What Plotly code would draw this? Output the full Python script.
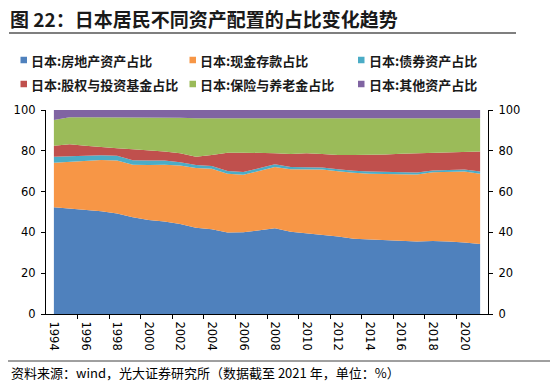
import plotly.graph_objects as go

years = list(range(1994, 2022))
real_estate = [52.3, 51.6, 51.0, 50.4, 49.3, 47.4, 46.1, 45.3, 44.1, 42.3, 41.5, 40.0, 40.1, 41.0,
               42.0, 40.3, 39.6, 39.0, 38.0, 36.9, 36.6, 36.3, 36.2, 35.6, 35.8, 35.6, 35.0, 34.3]
cash_deposit = [21.9, 23.0, 23.8, 25.1, 25.9, 25.8, 26.9, 27.9, 28.7, 29.3, 29.7, 28.8, 28.1, 29.0,
                30.0, 30.7, 31.2, 31.8, 32.0, 32.3, 32.2, 32.3, 32.2, 32.8, 33.7, 34.0, 34.8, 34.5]
bonds = [2.9, 2.7, 2.5, 2.3, 2.4, 2.2, 2.2, 2.0, 1.6, 1.4, 1.4, 1.3, 1.4, 1.4,
         1.4, 1.0, 1.0, 1.0, 1.0, 1.0, 1.0, 1.0, 1.0, 1.0, 0.9, 1.0, 1.0, 1.0]
equity_funds = [5.4, 5.9, 5.2, 4.0, 3.7, 5.4, 5.1, 4.4, 4.4, 4.1, 5.3, 9.0, 9.5, 7.7,
                5.4, 6.4, 7.0, 6.6, 6.9, 7.7, 8.1, 8.6, 9.2, 9.4, 8.4, 8.5, 8.5, 9.8]
insurance_pension = [12.6, 13.2, 13.9, 14.6, 15.1, 15.6, 16.1, 16.7, 17.4, 18.8, 18.0, 16.8, 16.8, 16.8,
                     17.2, 17.7, 17.3, 17.7, 18.2, 18.1, 18.1, 17.8, 17.4, 17.2, 17.2, 16.9, 16.7, 16.4]
other_assets = [4.9, 3.6, 3.6, 3.6, 3.6, 3.6, 3.6, 3.7, 3.8, 4.1, 4.1, 4.1, 4.1, 4.1,
                4.0, 3.9, 3.9, 3.9, 3.9, 4.0, 4.0, 4.0, 4.0, 4.0, 4.0, 4.0, 4.0, 4.0]

series_names = ["日本:房地产资产占比", "日本:现金存款占比", "日本:债券资产占比",
                "日本:股权与投资基金占比", "日本:保险与养老金占比", "日本:其他资产占比"]
series_values = [real_estate, cash_deposit, bonds, equity_funds, insurance_pension, other_assets]
colors = ["#4F81BD", "#F79646", "#4BACC6", "#C0504D", "#9BBB59", "#8064A2"]

year_labels = [str(y) for y in range(1994, 2021, 2)]

W, H = 550, 384
ML, MR, MT, MB = 46, 62, 110, 70
PW, PH = W - ML - MR, H - MT - MB


def px(x):
    return (x - ML) / PW


def py(y):
    return (H - MB - y) / PH


fig = go.Figure()
for name, vals, col in zip(series_names, series_values, colors):
    fig.add_trace(go.Scatter(
        x=years, y=vals, name=name, mode="lines", stackgroup="one",
        line=dict(width=0, color=col), fillcolor=col, showlegend=False,
        hoverinfo="x+y+name"))

axis_font = dict(family="DejaVu Sans", size=11.5, color="#000000")

fig.update_layout(
    width=W, height=H, autosize=False,
    margin=dict(l=ML, r=MR, t=MT, b=MB, pad=0),
    paper_bgcolor="white", plot_bgcolor="white",
    showlegend=False,
    xaxis=dict(
        range=[1993.5, 2021.5], tickmode="array",
        tickvals=list(range(1994, 2021, 2)), ticktext=year_labels,
        tickangle=90, ticks="", tickfont=axis_font, ticklabelstandoff=4,
        showline=True, linecolor="#000000", linewidth=1.3,
        showgrid=False, zeroline=False,
        minor=dict(tickmode="array", tickvals=[1995.5 + 2 * k for k in range(13)],
                   ticks="outside", ticklen=4, tickcolor="#000000", tickwidth=1.3),
    ),
    yaxis=dict(
        range=[0, 100], tickvals=[0, 20, 40, 60, 80, 100], ticks="outside",
        ticklen=4, tickcolor="#000000", tickwidth=1.3, tickfont=axis_font,
        ticklabelstandoff=3,
        showline=True, linecolor="#000000", linewidth=1.3,
        showgrid=False, zeroline=False,
    ),
    yaxis2=dict(
        range=[0, 100], tickvals=[0, 20, 40, 60, 80, 100], ticks="outside",
        ticklen=4, tickcolor="#000000", tickwidth=1.3, tickfont=axis_font,
        ticklabelstandoff=3,
        showline=True, linecolor="#000000", linewidth=1.3,
        showgrid=False, zeroline=False, overlaying="y", side="right",
        anchor="x",
    ),
)
# invisible trace to activate right axis
fig.add_trace(go.Scatter(x=[years[0]], y=[0], yaxis="y2", mode="markers",
                         marker=dict(opacity=0), showlegend=False, hoverinfo="skip"))

cjk = "Noto Sans CJK SC"
annotations = [
    dict(text="<b>图 22：日本居民不同资产配置的占比变化趋势</b>", x=px(8), y=py(18),
         xref="paper", yref="paper",
         xanchor="left", yanchor="middle", showarrow=False,
         font=dict(family=cjk, size=19, color="#1a1a1a")),
    dict(text="资料来源：wind，光大证券研究所（数据截至 2021 年，单位：%）", x=px(9), y=py(372),
         xref="paper", yref="paper",
         xanchor="left", yanchor="middle", showarrow=False,
         font=dict(family=cjk, size=13, color="#000000")),
]
shapes = [
    dict(type="line", xref="paper", yref="paper", x0=px(9), x1=px(516), y0=py(33), y1=py(33),
         line=dict(color="#7f7f7f", width=2)),
    dict(type="line", xref="paper", yref="paper", x0=px(8), x1=px(550), y0=py(361), y1=py(361),
         line=dict(color="#404040", width=1)),
]
leg_pos = [(20.5, 60), (189.5, 60), (358, 60), (20.5, 84), (189.5, 84), (358, 84)]
for (lx, ly), name, col in zip(leg_pos, series_names, colors):
    shapes.append(dict(type="rect", xref="paper", yref="paper",
                       x0=px(lx), x1=px(lx + 6.5), y0=py(ly - 3.25), y1=py(ly + 3.25),
                       fillcolor=col, line=dict(width=0)))
    annotations.append(dict(text="<b>" + name + "</b>", x=px(lx + 8.5), y=py(ly),
                            xref="paper", yref="paper",
                            xanchor="left", yanchor="middle", showarrow=False,
                            font=dict(family=cjk, size=13, color="#1a1a1a")))
fig.update_layout(annotations=annotations, shapes=shapes)

fig.write_html("out.html", config={"displayModeBar": False},
               post_script="document.body.style.margin='0';")
